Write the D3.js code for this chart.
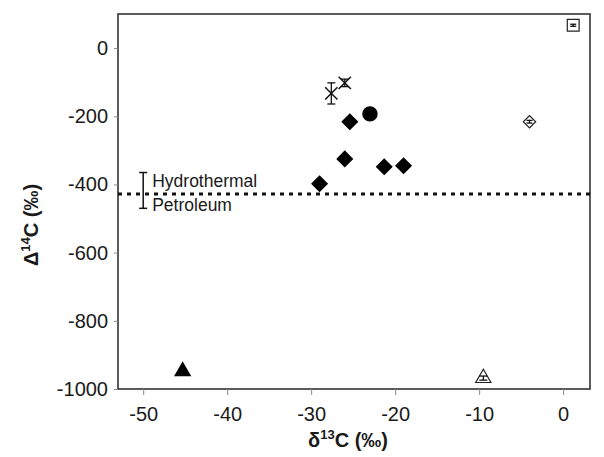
<!DOCTYPE html>
<html>
<head>
<meta charset="utf-8">
<script src="https://cdn.jsdelivr.net/npm/d3@7"></script>
<style>
  body { margin: 0; background: #fff; }
  svg { font-family: "Liberation Sans", Arial, sans-serif; }
</style>
</head>
<body>
<div id="chart"></div>
<script>
const width = 604;
const height = 457;

// axis ticks
const xTicks = [-50, -40, -30, -20, -10, 0];
const yTicks = [0, -200, -400, -600, -800, -1000];

// filled diamonds
const diamondX = [-29.0, -26.0, -25.4, -21.3, -19.0];
const diamondY = [-398, -325, -216, -348, -345];

// filled circle
const circleX = [-23.0];
const circleY = [-193];

// crosses with error bars
const crossX = [-27.6, -26.0];
const crossY = [-133, -102];
const crossErr = [31, 11];

// filled triangle
const triX = [-45.3];
const triY = [-948];

// open markers
const openTriX = [-9.5];
const openTriY = [-968];
const openDiamondX = [-4.0];
const openDiamondY = [-216];
const openSquareX = [1.2];
const openSquareY = [67];

// reference line and range bar
const refLine = -428;
const refBarX = -50;
const refBarLow = -470;
const refBarHigh = -365;

const svg = d3.select("#chart").append("svg")
    .attr("width", width)
    .attr("height", height);

const xMin = -53, xMax = 3.2;
const yMin = -1000, yMax = 100;
const xScale = d3.scaleLinear().domain([xMin, xMax]).range([118, 590]);
const yScale = d3.scaleLinear().domain([yMin, yMax]).range([389, 14]);
const plain = function (d) { return String(d); };

// frame
svg.append("rect")
    .attr("x", xScale(xMin))
    .attr("y", yScale(yMax))
    .attr("width", xScale(xMax) - xScale(xMin))
    .attr("height", yScale(yMin) - yScale(yMax))
    .attr("fill", "none")
    .attr("stroke", "#333")
    .attr("stroke-width", 1.6);

// x axis
const xAxis = d3.axisBottom(xScale).tickValues(xTicks).tickSize(6)
    .tickPadding(12).tickFormat(plain);
const gx = svg.append("g")
    .attr("transform", "translate(0," + yScale(yMin) + ")")
    .call(xAxis);
gx.select(".domain").remove();
gx.selectAll("line").attr("stroke", "#888");
gx.selectAll("text").attr("font-size", 20).attr("fill", "#1a1a1a")
    .attr("font-family", "Liberation Sans, Arial, sans-serif");

// y axis
const yAxis = d3.axisLeft(yScale).tickValues(yTicks).tickSize(4)
    .tickPadding(6).tickFormat(plain);
const gy = svg.append("g")
    .attr("transform", "translate(" + xScale(xMin) + ",0)")
    .call(yAxis);
gy.select(".domain").remove();
gy.selectAll("line").attr("stroke", "#888");
gy.selectAll("text").attr("font-size", 20).attr("fill", "#1a1a1a")
    .attr("font-family", "Liberation Sans, Arial, sans-serif");

// axis titles
const xTitle = svg.append("text")
    .attr("x", 348)
    .attr("y", 447)
    .attr("text-anchor", "middle")
    .attr("font-size", 20)
    .attr("font-weight", "bold")
    .attr("fill", "#1a1a1a");
xTitle.append("tspan").text("δ");
xTitle.append("tspan").text("13").attr("font-size", 13).attr("dy", -8);
xTitle.append("tspan").text("C (‰)").attr("dy", 8);

const yTitle = svg.append("text")
    .attr("transform", "translate(38,225) rotate(-90)")
    .attr("text-anchor", "middle")
    .attr("font-size", 20)
    .attr("font-weight", "bold")
    .attr("fill", "#1a1a1a");
yTitle.append("tspan").text("Δ");
yTitle.append("tspan").text("14").attr("font-size", 13).attr("dy", -8);
yTitle.append("tspan").text("C (‰)").attr("dy", 8);

// dotted reference line
svg.append("line")
    .attr("x1", xScale(xMin))
    .attr("x2", xScale(xMax))
    .attr("y1", yScale(refLine))
    .attr("y2", yScale(refLine))
    .attr("stroke", "#111")
    .attr("stroke-width", 3)
    .attr("stroke-dasharray", "4,5");

// hydrothermal / petroleum range bar
const bx = xScale(refBarX);
svg.append("line")
    .attr("x1", bx).attr("x2", bx)
    .attr("y1", yScale(refBarHigh)).attr("y2", yScale(refBarLow))
    .attr("stroke", "#111").attr("stroke-width", 1.5);
[refBarHigh, refBarLow].forEach(function (v) {
    svg.append("line")
        .attr("x1", bx - 4).attr("x2", bx + 4)
        .attr("y1", yScale(v)).attr("y2", yScale(v))
        .attr("stroke", "#111").attr("stroke-width", 1.5);
});
svg.append("text")
    .text("Hydrothermal")
    .attr("x", bx + 9)
    .attr("y", yScale(refLine) - 12)
    .attr("dominant-baseline", "middle")
    .attr("font-size", 17.5)
    .attr("fill", "#1a1a1a");
svg.append("text")
    .text("Petroleum")
    .attr("x", bx + 9)
    .attr("y", yScale(refLine) + 12)
    .attr("dominant-baseline", "middle")
    .attr("font-size", 17.5)
    .attr("fill", "#1a1a1a");

function pts(xs, ys) {
    return xs.map(function (x, i) { return { x: x, y: ys[i] }; });
}

function drawSymbol(data, type, size, fill, stroke, rot) {
    svg.append("g")
        .selectAll("path")
        .data(data)
        .enter()
        .append("path")
        .attr("d", d3.symbol().type(type).size(size))
        .attr("transform", function (d) {
            return "translate(" + xScale(d.x) + "," + yScale(d.y) + ") rotate(" + (rot || 0) + ")";
        })
        .attr("fill", fill)
        .attr("stroke", stroke)
        .attr("stroke-width", 1.2);
}

// small vertical error bars with caps
function drawErr(data, errs, capHalf) {
    data.forEach(function (d, i) {
        const cx = xScale(d.x);
        const y1 = yScale(d.y + errs[i]);
        const y2 = yScale(d.y - errs[i]);
        const g = svg.append("g").attr("stroke", "#111").attr("stroke-width", 1.3);
        g.append("line").attr("x1", cx).attr("x2", cx).attr("y1", y1).attr("y2", y2);
        g.append("line").attr("x1", cx - capHalf).attr("x2", cx + capHalf).attr("y1", y1).attr("y2", y1);
        g.append("line").attr("x1", cx - capHalf).attr("x2", cx + capHalf).attr("y1", y2).attr("y2", y2);
    });
}

drawSymbol(pts(diamondX, diamondY), d3.symbolSquare, 118, "#000", "#000", 45);
drawSymbol(pts(circleX, circleY), d3.symbolCircle, 160, "#000", "#000");
drawSymbol(pts(triX, triY), d3.symbolTriangle, 100, "#000", "#000");

// crosses
const crosses = pts(crossX, crossY);
svg.append("g")
    .selectAll("path")
    .data(crosses)
    .enter()
    .append("path")
    .attr("d", d3.symbol().type(d3.symbolTimes || d3.symbolX).size(100))
    .attr("transform", function (d) {
        return "translate(" + xScale(d.x) + "," + yScale(d.y) + ")";
    })
    .attr("fill", "none")
    .attr("stroke", "#111")
    .attr("stroke-width", 1.5);
drawErr(crosses, crossErr, 4);

// open markers with tiny error bars inside
drawSymbol(pts(openTriX, openTriY), d3.symbolTriangle, 100, "#fff", "#222");
drawErr(pts(openTriX, openTriY), [6], 4);
drawSymbol(pts(openDiamondX, openDiamondY), d3.symbolSquare, 76, "#fff", "#222", 45);
drawErr(pts(openDiamondX, openDiamondY), [4], 3);
drawSymbol(pts(openSquareX, openSquareY), d3.symbolSquare, 140, "#fff", "#222");
drawErr(pts(openSquareX, openSquareY), [3], 3);
</script>
</body>
</html>
